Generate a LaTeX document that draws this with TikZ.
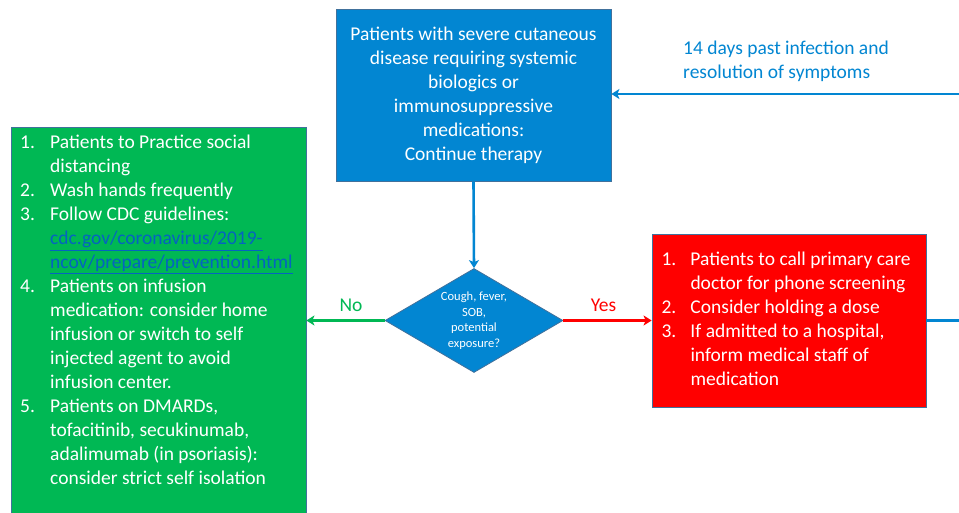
\documentclass[tikz,border=0pt]{standalone}
\usepackage{fontspec}
\setmainfont{Carlito}
\usetikzlibrary{shapes.geometric,arrows.meta}
\definecolor{boxblue}{RGB}{2,134,210}
\definecolor{linkblue}{RGB}{5,99,193}
\definecolor{boxgreen}{RGB}{0,184,84}
\definecolor{boxred}{RGB}{255,0,0}
\definecolor{edge}{RGB}{65,113,156}
\tikzset{
  box/.style={draw=edge, line width=0.8pt, inner sep=0pt, text=white},
  big/.style={font=\fontsize{19.5}{24}\selectfont},
  conn/.style={line width=2.6pt},
  tip/.style={-{Stealth[length=8pt,width=10pt,inset=2pt]}},
}
\begin{document}
\begin{tikzpicture}[x=1pt,y=-1pt]
\useasboundingbox (0,0) rectangle (959,513);
\clip (0,0) rectangle (959,513);
\fill[white] (0,0) rectangle (959,513);

% boxes
\node[box, fill=boxblue, big, align=center, minimum width=275pt, minimum height=172pt] (top) at (473.5,95)
  {Patients with severe cutaneous\\disease requiring systemic\\biologics or\\immunosuppressive\\medications:\\Continue therapy};

\node[box, fill=boxblue, shape=diamond, shape aspect=1.71, inner sep=-2pt, minimum width=178pt, minimum height=104pt, align=center,
      font=\fontsize{12.5}{15.5}\selectfont] (dec) at (474,320.5)
  {Cough, fever,\\SOB,\\potential\\exposure?};

\node[box, fill=boxred, big, minimum width=274pt, minimum height=173pt] (red) at (789,320.5)
  {\begin{tabular}{@{}p{29pt}@{}p{226pt}@{}}
  1. & Patients to call primary care\\
     & doctor for phone screening\\
  2. & Consider holding a dose\\
  3. & If admitted to a hospital,\\
     & inform medical staff of\\
     & medication
  \end{tabular}};

\node[box, fill=boxgreen, anchor=north, minimum width=295pt, minimum height=420pt] (green) at (158.5,127) {};
\node[big, text=white, anchor=base west, inner sep=0pt] (greentext) at (20,149)
  {\begin{tabular}[t]{@{}p{30pt}@{}l@{}}
  1. & Patients to Practice social\\
     & distancing\\
  2. & Wash hands frequently\\
  3. & Follow CDC guidelines:\\
     & \textcolor{linkblue}{\underline{cdc.gov/coronavirus/2019-}}\\
     & \textcolor{linkblue}{\underline{ncov/prepare/prevention.html}}\\
  4. & Patients on infusion\\
     & medication: consider home\\
     & infusion or switch to self\\
     & injected agent to avoid\\
     & infusion center.\\
  5. & Patients on DMARDs,\\
     & tofacitinib, secukinumab,\\
     & adalimumab (in psoriasis):\\
     & consider strict self isolation
  \end{tabular}};

% free ends beyond the right edge
\coordinate (backin) at (970,94);
\coordinate (outred) at (970,320.5);

% connectors
\draw[conn, boxblue, tip] (backin) -- (backin -| top.east);
\draw[conn, boxblue, tip] (top.south) -- (dec.north);
\draw[conn, boxred, tip] (dec.east) -- (red.west);
\draw[conn, boxgreen, tip] (dec.west) -- (dec.west -| green.east);
\draw[conn, boxblue] (red.east) -- (outred);

% labels
\node[big, text=boxblue, anchor=west, align=left, inner sep=0pt] (backlabel) at (683,61)
  {14 days past infection and\\resolution of symptoms};
\node[big, text=boxred, inner sep=0pt] (yes) at (603.5,305) {Yes};
\node[big, text=boxgreen, inner sep=0pt] (no) at (351,305) {No};
\end{tikzpicture}
\end{document}
